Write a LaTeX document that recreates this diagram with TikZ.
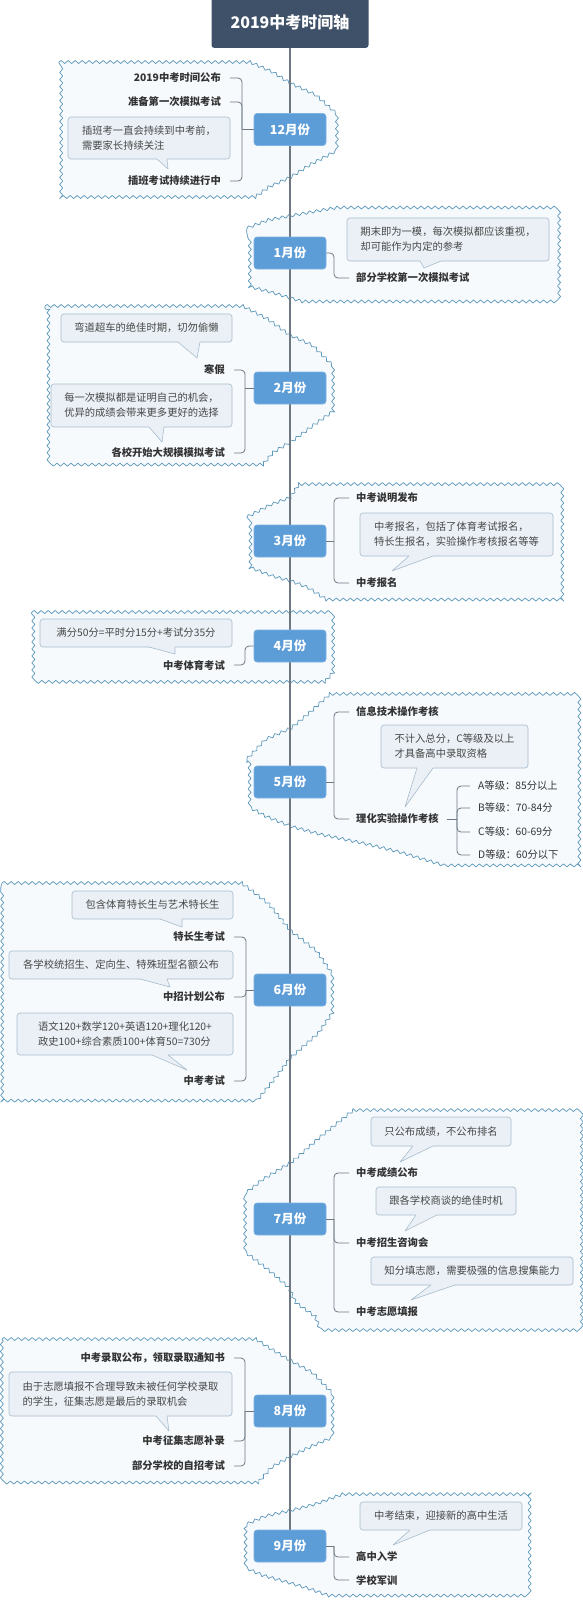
\documentclass[tikz,border=0pt]{standalone}
\usepackage{fontspec}
\setmainfont{Noto Sans CJK SC}
\usetikzlibrary{decorations.pathmorphing,fit}
\definecolor{titlebg}{HTML}{3E5169}
\definecolor{monthbg}{HTML}{5C9DD8}
\definecolor{monthbd}{HTML}{7DB2E2}
\definecolor{cloudbd}{HTML}{5B97BA}
\definecolor{cloudbg}{HTML}{F6FAFD}
\definecolor{callbg}{HTML}{EAF0F6}
\definecolor{callbd}{HTML}{A8BCCC}
\definecolor{calltx}{HTML}{474747}
\definecolor{itemtx}{HTML}{333333}
\definecolor{linec}{HTML}{6E7882}
\tikzset{
 cloudshape/.style={draw=cloudbd, fill=cloudbg, line width=0.7pt, line join=round, decorate, decoration={snake, amplitude=1.5pt, segment length=7pt}},
 monthnode/.style={fill=monthbg, draw=monthbd, line width=0.6pt, rounded corners=3pt, minimum width=72pt, minimum height=32pt, inner sep=0pt, text=white, font=\bfseries\fontsize{12.5}{14}\selectfont},
 titlenode/.style={fill=titlebg, rounded corners=3pt, minimum width=157pt, minimum height=52pt, inner sep=0pt, text=white, font=\bfseries\fontsize{16}{18}\selectfont},
 itemnode/.style={inner sep=0pt, text=itemtx, font=\bfseries\fontsize{10.3}{12}\selectfont},
 gradenode/.style={inner sep=0pt, text=itemtx, font=\fontsize{10.3}{12}\selectfont},
 callboxs/.style={fill=callbg, draw=callbd, line width=0.6pt, rounded corners=3pt, inner sep=0pt},
 calltxt/.style={inner sep=0pt, text=calltx, align=left, font=\fontsize{10.3}{15}\selectfont},
 connline/.style={draw=linec, line width=0.8pt},
 timeline/.style={draw=linec, line width=1.1pt},
}
\newcommand{\mycallout}[4]{%
 \coordinate (#1a) at (#2); \coordinate (#1b) at (#3);
 \node[callboxs, fit=(#1a)(#1b)] (#1) {};
 \node[calltxt] (#1t) at (#1.center) {#4};}
\newcommand{\mytail}[4]{%
 \fill[callbg] (#2,#1-1.5) -- (#2,#1) -- (#4) -- (#3,#1) -- (#3,#1-1.5) -- cycle;
 \draw[callbd, line width=0.6pt, line join=round] (#2,#1) -- (#4) -- (#3,#1);}
\begin{document}
\begin{tikzpicture}[x=1pt,y=-1pt]
\useasboundingbox (0,0) rectangle (583,1600);
\fill[white] (0,0) rectangle (583,1600);
% boundaries
\path[cloudshape] (59,62) -- (247,62) -- (270,72) -- (289,84) -- (315,96) -- (335,114) -- (335,150) -- (312,162) -- (290,176) -- (268,186) -- (253,197) -- (59,197) -- cycle;
\path[cloudshape] (247,228) -- (268,220) -- (290,216) -- (312,212) -- (335,208) -- (558,208) -- (558,296) -- (300,296) -- (270,287) -- (247,281) -- cycle;
\path[cloudshape] (45,306) -- (242,306) -- (265,318) -- (290,336) -- (312,346) -- (331,365) -- (331,410) -- (310,425) -- (290,440) -- (270,452) -- (258,466) -- (45,466) -- cycle;
\path[cloudshape] (247,517) -- (268,506) -- (290,498) -- (300,483) -- (560,483) -- (560,600) -- (323,600) -- (305,588) -- (290,582) -- (268,576) -- (247,568) -- cycle;
\path[cloudshape] (32,612) -- (331,612) -- (331,672) -- (322,682) -- (32,682) -- cycle;
\path[cloudshape] (247,759) -- (263,742) -- (290,730) -- (307,716) -- (330,695) -- (577,695) -- (577,869) -- (443,869) -- (400,856) -- (363,847) -- (320,838) -- (290,830) -- (265,820) -- (247,810) -- cycle;
\path[cloudshape] (2,883) -- (242,883) -- (268,903) -- (290,930) -- (316,950) -- (331,972) -- (331,1013) -- (318,1032) -- (290,1057) -- (275,1077) -- (258,1098) -- (2,1098) -- cycle;
\path[cloudshape] (247,1192) -- (262,1180) -- (290,1163) -- (316,1140) -- (353,1110) -- (580,1110) -- (580,1328) -- (323,1328) -- (318,1315) -- (297,1300) -- (290,1285) -- (268,1266) -- (247,1250) -- cycle;
\path[cloudshape] (2,1339) -- (253,1339) -- (270,1350) -- (290,1362) -- (312,1374) -- (331,1394) -- (331,1437) -- (310,1446) -- (290,1456) -- (272,1466) -- (258,1482) -- (2,1482) -- cycle;
\path[cloudshape] (247,1524) -- (263,1517) -- (290,1511) -- (313,1505) -- (340,1495) -- (530,1495) -- (530,1596) -- (330,1596) -- (310,1589) -- (290,1583) -- (265,1576) -- (247,1568) -- cycle;
% title and months
\node[titlenode] (title) at (290,22) {2019中考时间轴};
\coordinate (m12p) at (290,129.5);
\coordinate (m1p) at (290,253);
\coordinate (m2p) at (290,388);
\coordinate (m3p) at (290,541);
\coordinate (m4p) at (290,646);
\coordinate (m5p) at (290,782);
\coordinate (m6p) at (290,990);
\coordinate (m7p) at (290,1219);
\coordinate (m8p) at (290,1411);
\coordinate (m9p) at (290,1546);
\draw[timeline] (title.south) -- (m9p);
% items
\node[itemnode, anchor=east] (i12a) at (221,78) {2019中考时间公布};
\node[itemnode, anchor=east] (i12b) at (221,102) {准备第一次模拟考试};
\node[itemnode, anchor=east] (i12c) at (221,181) {插班考试持续进行中};
\node[itemnode, anchor=west] (i1a) at (356,278) {部分学校第一次模拟考试};
\node[itemnode, anchor=east] (i2a) at (225,370) {寒假};
\node[itemnode, anchor=east] (i2b) at (225,453) {各校开始大规模模拟考试};
\node[itemnode, anchor=west] (i3a) at (356,498) {中考说明发布};
\node[itemnode, anchor=west] (i3b) at (356,583) {中考报名};
\node[itemnode, anchor=east] (i4a) at (225,665) {中考体育考试};
\node[itemnode, anchor=west] (i5a) at (356,712) {信息技术操作考核};
\node[itemnode, anchor=west] (i5b) at (356,819) {理化实验操作考核};
\node[gradenode, anchor=west] (g1) at (478,786) {A等级：85分以上};
\node[gradenode, anchor=west] (g2) at (478,808) {B等级：70-84分};
\node[gradenode, anchor=west] (g3) at (478,832) {C等级：60-69分};
\node[gradenode, anchor=west] (g4) at (478,855) {D等级：60分以下};
\node[itemnode, anchor=east] (i6a) at (225,937) {特长生考试};
\node[itemnode, anchor=east] (i6b) at (225,997) {中招计划公布};
\node[itemnode, anchor=east] (i6c) at (225,1081) {中考考试};
\node[itemnode, anchor=west] (i7a) at (356,1173) {中考成绩公布};
\node[itemnode, anchor=west] (i7b) at (356,1243) {中考招生咨询会};
\node[itemnode, anchor=west] (i7c) at (356,1312) {中考志愿填报};
\node[itemnode, anchor=east] (i8a) at (225,1358) {中考录取公布，领取录取通知书};
\node[itemnode, anchor=east] (i8b) at (225,1441) {中考征集志愿补录};
\node[itemnode, anchor=east] (i8c) at (225,1466) {部分学校的自招考试};
\node[itemnode, anchor=west] (i9a) at (356,1557) {高中入学};
\node[itemnode, anchor=west] (i9b) at (356,1580) {学校军训};
% month boxes
\node[monthnode] (m12) at (m12p) {12月份};
\node[monthnode] (m1) at (m1p) {1月份};
\node[monthnode] (m2) at (m2p) {2月份};
\node[monthnode] (m3) at (m3p) {3月份};
\node[monthnode] (m4) at (m4p) {4月份};
\node[monthnode] (m5) at (m5p) {5月份};
\node[monthnode] (m6) at (m6p) {6月份};
\node[monthnode] (m7) at (m7p) {7月份};
\node[monthnode] (m8) at (m8p) {8月份};
\node[monthnode] (m9) at (m9p) {9月份};
% connectors
\coordinate (b12) at (242,129.5);
\draw[connline] (m12.west) -- (b12);
\foreach \n in {i12a,i12b,i12c} \draw[connline, rounded corners=4pt] (b12) |- ([xshift=9pt]\n.east);
\coordinate (b1) at (334,253);
\draw[connline, rounded corners=4pt] (m1.east) -- (b1) |- ([xshift=-7pt]i1a.west);
\coordinate (b2) at (245,388);
\draw[connline] (m2.west) -- (b2);
\foreach \n in {i2a,i2b} \draw[connline, rounded corners=4pt] (b2) |- ([xshift=9pt]\n.east);
\coordinate (b3) at (334,541);
\draw[connline] (m3.east) -- (b3);
\foreach \n in {i3a,i3b} \draw[connline, rounded corners=4pt] (b3) |- ([xshift=-7pt]\n.west);
\coordinate (b4) at (245,646);
\draw[connline, rounded corners=4pt] (m4.west) -- (b4) |- ([xshift=9pt]i4a.east);
\coordinate (b5) at (334,782);
\draw[connline] (m5.east) -- (b5);
\foreach \n in {i5a,i5b} \draw[connline, rounded corners=4pt] (b5) |- ([xshift=-7pt]\n.west);
\coordinate (b5s) at (457,819);
\draw[connline] ([xshift=8pt]i5b.east) -- (b5s);
\foreach \n in {g1,g2,g3,g4} \draw[connline, rounded corners=4pt] (b5s) |- ([xshift=-8pt]\n.west);
\coordinate (b6) at (246,990);
\draw[connline] (m6.west) -- (b6);
\foreach \n in {i6a,i6b,i6c} \draw[connline, rounded corners=4pt] (b6) |- ([xshift=9pt]\n.east);
\coordinate (b7) at (334,1219);
\draw[connline] (m7.east) -- (b7);
\foreach \n in {i7a,i7b,i7c} \draw[connline, rounded corners=4pt] (b7) |- ([xshift=-7pt]\n.west);
\coordinate (b8) at (245,1411);
\draw[connline] (m8.west) -- (b8);
\foreach \n in {i8a,i8b,i8c} \draw[connline, rounded corners=4pt] (b8) |- ([xshift=9pt]\n.east);
\coordinate (b9) at (334,1546);
\draw[connline] (m9.east) -- (b9);
\foreach \n in {i9a,i9b} \draw[connline, rounded corners=4pt] (b9) |- ([xshift=-7pt]\n.west);
% callouts
\mycallout{c12}{68,117}{230,159}{插班考一直会持续到中考前，\\需要家长持续关注}
\mytail{159}{157}{167}{168,169}
\mycallout{c1}{347,218}{549,261}{期末即为一模，每次模拟都应该重视，\\却可能作为内定的参考}
\mytail{261}{420}{441}{424,268}
\mycallout{c2a}{61,314}{232,342}{弯道超车的绝佳时期，切勿偷懒}
\mytail{342}{178}{200}{197,358}
\mycallout{c2b}{51,384}{232,427}{每一次模拟都是证明自己的机会，\\优异的成绩会带来更多更好的选择}
\mytail{427}{149}{164}{162,442}
\mycallout{c3}{360,513}{553,556}{中考报名，包括了体育考试报名，\\特长生报名，实验操作考核报名等等}
\mytail{556}{409}{433}{392,571}
\mycallout{c4}{40,619}{232,647}{满分50分=平时分15分+考试分35分}
\mytail{647}{149}{175}{175,654}
\mycallout{c5}{381,725}{528,768}{不计入总分，C等级及以上\\才具备高中录取资格}
\mytail{768}{417}{433}{405,807}
\mycallout{c6a}{72,891}{233,919}{包含体育特长生与艺术特长生}
\mytail{919}{160}{182}{182,927}
\mycallout{c6b}{9,951}{233,979}{各学校统招生、定向生、特殊班型名额公布}
\mytail{979}{140}{167}{170,987}
\mycallout{c6c}{17,1013}{233,1055}{语文120+数学120+英语120+理化120+\\政史100+综合素质100+体育50=730分}
\mytail{1055}{152}{168}{187,1070}
\mycallout{c7a}{371,1117}{511,1146}{只公布成绩，不公布排名}
\mytail{1146}{413}{433}{400,1162}
\mycallout{c7b}{376,1187}{516,1215}{跟各学校商谈的绝佳时机}
\mytail{1215}{416}{437}{405,1231}
\mycallout{c7c}{371,1257}{573,1285}{知分填志愿，需要极强的信息搜集能力}
\mytail{1285}{431}{455}{411,1300}
\mycallout{c8}{9,1372}{232,1416}{由于志愿填报不合理导致未被任何学校录取\\的学生，征集志愿是最后的录取机会}
\mytail{1416}{156}{167}{169,1431}
\mycallout{c9}{360,1502}{522,1530}{中考结束，迎接新的高中生活}
\mytail{1530}{410}{430}{393,1545}
\end{tikzpicture}
\end{document}
